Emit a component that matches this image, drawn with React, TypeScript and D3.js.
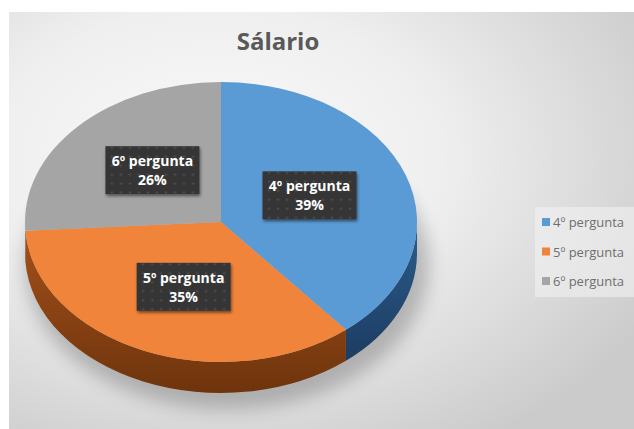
import React from "react";
import * as d3 from "d3";

const title = "Sálario";
const categories = ["4º pergunta", "5º pergunta", "6º pergunta"];
const values = [39, 35, 26];
const topColors = ["#5b9bd5", "#f0843a", "#a5a5a5"];
const sideTop = ["#2c5d8c", "#a4501a", "#7d7d7d"];
const sideBottom = ["#1c3c62", "#6e340c", "#5e5e5e"];

const W = 634;
const H = 429;
const cx = 221;
const cy = 222;
const rx = 196;
const ry = 140;
const depth = 31;

function pt(a: number, dy = 0): [number, number] {
  return [cx + rx * Math.sin(a), cy - ry * Math.cos(a) + dy];
}

export default function App() {
  React.useEffect(() => {
    document.body.style.margin = "0";
  }, []);

  const total = d3.sum(values);
  const pie = d3.pie<number>().sort(null).value((d) => d);
  const arcs = pie(values);

  const topPath = (s: number, e: number) => {
    const p0 = pt(s);
    const p1 = pt(e);
    const large = e - s > Math.PI ? 1 : 0;
    return `M${cx},${cy}L${p0[0]},${p0[1]}A${rx},${ry} 0 ${large} 1 ${p1[0]},${p1[1]}Z`;
  };

  const sidePath = (s: number, e: number) => {
    const a0 = Math.max(s, Math.PI / 2);
    const a1 = Math.min(e, (3 * Math.PI) / 2);
    if (a1 <= a0) return null;
    const p0 = pt(a0);
    const p1 = pt(a1);
    const q1 = pt(a1, depth);
    const q0 = pt(a0, depth);
    return `M${p0[0]},${p0[1]}A${rx},${ry} 0 0 1 ${p1[0]},${p1[1]}L${q1[0]},${q1[1]}A${rx},${ry} 0 0 0 ${q0[0]},${q0[1]}Z`;
  };

  const legendY = d3.scalePoint<string>().domain(categories).range([222, 281]);

  const boxW = 94;
  const boxH = 48;

  return (
    <svg width={W} height={H} style={{ position: "absolute", left: 0, top: 0, display: "block" }}>
      <defs>
        <radialGradient id="bg" cx="0.33" cy="0.35" r="0.8">
          <stop offset="0" stopColor="#f9f9f9" />
          <stop offset="0.45" stopColor="#efefef" />
          <stop offset="1" stopColor="#cbcbcb" />
        </radialGradient>
        {sideTop.map((c, i) => (
          <linearGradient key={i} id={`side${i}`} x1="0" y1="0" x2="0" y2="1">
            <stop offset="0" stopColor={c} />
            <stop offset="1" stopColor={sideBottom[i]} />
          </linearGradient>
        ))}
        <filter id="blur" x="-20%" y="-20%" width="140%" height="140%">
          <feGaussianBlur stdDeviation="9" />
        </filter>
        <filter id="boxShadow" x="-20%" y="-20%" width="140%" height="140%">
          <feGaussianBlur in="SourceAlpha" stdDeviation="1.5" />
          <feOffset dx="1" dy="1.5" result="o" />
          <feComponentTransfer>
            <feFuncA type="linear" slope="0.5" />
          </feComponentTransfer>
          <feMerge>
            <feMergeNode />
            <feMergeNode in="SourceGraphic" />
          </feMerge>
        </filter>
        <pattern id="dots" width="9" height="9" patternUnits="userSpaceOnUse">
          <rect width="9" height="9" fill="#363636" />
          <circle cx="4.5" cy="4.5" r="0.9" fill="#575757" />
        </pattern>
      </defs>

      <rect x={0} y={0} width={W} height={H} fill="#ffffff" />
      <rect x={9} y={12} width={W - 9} height={H - 12} fill="url(#bg)" />

      {/* legend backdrop */}
      <rect x={535} y={207} width={99} height={90} fill="#f1f1f1" opacity={0.6} />

      {/* shadow */}
      <ellipse cx={cx + 6} cy={cy + depth + 12} rx={rx + 6} ry={ry + 4} fill="#000" opacity={0.22} filter="url(#blur)" />

      {/* sides */}
      {arcs.map((a, i) => {
        const d = sidePath(a.startAngle, a.endAngle);
        return d ? <path key={`s${i}`} d={d} fill={`url(#side${i})`} /> : null;
      })}

      {/* tops */}
      {arcs.map((a, i) => (
        <path key={`t${i}`} d={topPath(a.startAngle, a.endAngle)} fill={topColors[i]} />
      ))}

      {/* labels */}
      {arcs.map((a, i) => {
        const m = (a.startAngle + a.endAngle) / 2;
        const lx = cx + rx * 0.48 * Math.sin(m);
        const ly = cy - ry * 0.52 * Math.cos(m) - 2;
        const pct = Math.round((values[i] / total) * 100);
        return (
          <g key={`l${i}`} transform={`translate(${lx},${ly})`}>
            <rect x={-boxW / 2} y={-boxH / 2} width={boxW} height={boxH} fill="url(#dots)" filter="url(#boxShadow)" />
            <text
              x={0}
              y={-4}
              textAnchor="middle"
              fill="#ffffff"
              fontFamily="'Open Sans', sans-serif"
              fontWeight={700}
              fontSize={14}
            >
              {categories[i]}
            </text>
            <text
              x={0}
              y={15}
              textAnchor="middle"
              fill="#ffffff"
              fontFamily="'Open Sans', sans-serif"
              fontWeight={700}
              fontSize={14}
            >
              {`${pct}%`}
            </text>
          </g>
        );
      })}

      {/* title */}
      <text
        x={278}
        y={50}
        textAnchor="middle"
        fill="#595959"
        fontFamily="'Open Sans', sans-serif"
        fontWeight={700}
        fontSize={24}
      >
        {title}
      </text>

      {/* legend */}
      {categories.map((c, i) => (
        <g key={`g${i}`} transform={`translate(542,${legendY(c)})`}>
          <rect x={0} y={-4} width={8} height={8} fill={topColors[i]} />
          <text
            x={11}
            y={0}
            dominantBaseline="central"
            fill="#6f6f6f"
            fontFamily="'Open Sans', sans-serif"
            fontSize={13}
          >
            {c}
          </text>
        </g>
      ))}
    </svg>
  );
}
